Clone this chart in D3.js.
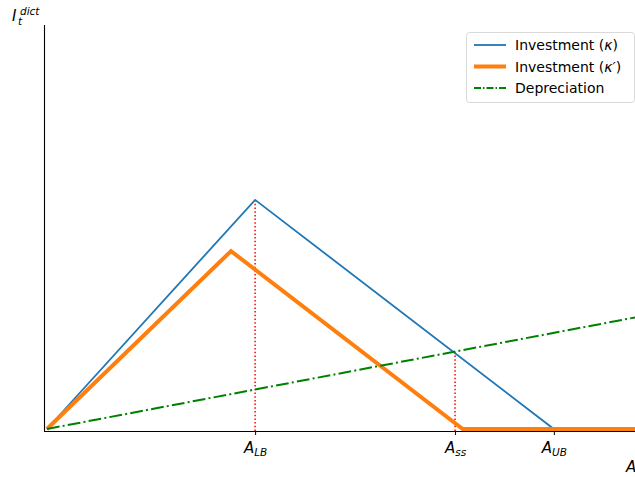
<!DOCTYPE html>
<html>
<head>
<meta charset="utf-8">
<script src="https://cdn.jsdelivr.net/npm/d3@7"></script>
<style>
  body { margin: 0; background: #fff; }
  svg { display: block; font-family: "DejaVu Sans", sans-serif; }
</style>
</head>
<body>
<svg id="chart" width="635" height="477"></svg>
<script>
// Capital thresholds on the A axis
const thresholdNames = ["LB", "ss", "UB"];
const thresholdValues = [3.54, 6.94, 8.62];

// Investment schedule (κ): rises to A_LB, falls to zero at A_UB, then flat
const investA = [0, 3.54, 8.62, 10.2];
const investI = [0, 2.28, 0, 0];

// Investment schedule (κ′): peaks earlier and lower, zero from 7.07 on
const investPrimeA = [0, 3.13, 7.07, 10.2];
const investPrimeI = [0, 1.77, 0, 0];

// Depreciation: linear in A
const deprA = [0, 10.2];
const deprI = [0, 1.132];

// Guide lines: from the axis up to the blue line at A_LB and to the crossing at A_ss
const guideA = [3.54, 6.94];
const guideTop = [2.28, 0.77];

const legendLabels = ["Investment (", "Investment (", "Depreciation"];

const svg = d3.select("#chart");
const mLeft = 44, mBottom = 431, mTop = 25, mRight = 636;

const x = d3.scaleLinear().domain([-0.05, 10]).range([mLeft, 635]);
const y = d3.scaleLinear().domain([-0.02, 4.02]).range([mBottom, mTop]);

const g = svg.append("g");
svg.append("defs").append("clipPath").attr("id", "plot")
  .append("rect").attr("x", mLeft).attr("y", mTop).attr("width", mRight - mLeft).attr("height", mBottom - mTop);

const plot = g.append("g").attr("clip-path", "url(#plot)");
const line = d3.line().x(d => x(d[0])).y(d => y(d[1]));

// red dotted guides
guideA.forEach((a, i) => {
  plot.append("line")
    .attr("x1", x(a)).attr("x2", x(a))
    .attr("y1", y(-0.02)).attr("y2", y(guideTop[i]))
    .attr("stroke", "red").attr("stroke-width", 1.5)
    .attr("stroke-dasharray", "1.5,2.2");
});

plot.append("path")
  .datum(d3.zip(investA, investI))
  .attr("d", line).attr("fill", "none")
  .attr("stroke", "#1f77b4").attr("stroke-width", 1.8);

plot.append("path")
  .datum(d3.zip(investPrimeA, investPrimeI))
  .attr("d", line).attr("fill", "none")
  .attr("stroke", "#ff7f0e").attr("stroke-width", 4)
  .attr("stroke-linejoin", "miter");

plot.append("path")
  .datum(d3.zip(deprA, deprI))
  .attr("d", line).attr("fill", "none")
  .attr("stroke", "green").attr("stroke-width", 2)
  .attr("stroke-dasharray", "12.8,3.2,2,3.2");

// axes: left and bottom spines only
const xAxis = d3.axisBottom(x)
  .tickValues(thresholdValues)
  .tickFormat("")
  .tickSize(4)
  .tickSizeOuter(0);
const xg = g.append("g").attr("transform", `translate(0,${mBottom})`).call(xAxis);
xg.select(".domain").attr("stroke", "#000").attr("stroke-width", 1.1)
  .attr("d", `M${mLeft},0.5H${mRight}`);
xg.selectAll(".tick line").attr("stroke", "#000").attr("stroke-width", 1);

// tick labels with subscripts
xg.selectAll(".tick").each(function(d, i) {
  const t = d3.select(this).append("text")
    .attr("y", 22).attr("text-anchor", "middle")
    .attr("fill", "#000").attr("font-size", 15)
    .attr("font-family", "DejaVu Sans").attr("font-style", "italic");
  t.append("tspan").text("A");
  t.append("tspan").attr("font-size", 10.5).attr("dy", 3).text(thresholdNames[i]);
});

g.append("line")
  .attr("x1", mLeft + 0.5).attr("x2", mLeft + 0.5)
  .attr("y1", mTop).attr("y2", mBottom + 0.5)
  .attr("stroke", "#000").attr("stroke-width", 1.1);

// axis labels: I with subscript t and superscript dict
const ylab = g.append("g").attr("font-style", "italic").attr("fill", "#000");
ylab.append("text").attr("x", 12).attr("y", 21).attr("font-size", 15).text("I");
ylab.append("text").attr("x", 20).attr("y", 15).attr("font-size", 10.5).text("dict");
ylab.append("text").attr("x", 18).attr("y", 25).attr("font-size", 10.5).text("t");

g.append("text").attr("x", 626).attr("y", 472)
  .attr("font-size", 15).attr("font-style", "italic").attr("fill", "#000").text("A");

// legend
const lg = g.append("g").attr("transform", "translate(466,32)");
lg.append("rect").attr("x", 0.5).attr("y", 0.5).attr("width", 168).attr("height", 70)
  .attr("rx", 3).attr("fill", "#fff").attr("fill-opacity", 0.8)
  .attr("stroke", "#d9d9d9").attr("stroke-width", 1);
const legendStyles = [
  { color: "#1f77b4", width: 1.8, dash: null, mark: "κ" },
  { color: "#ff7f0e", width: 4, dash: null, mark: "κ′" },
  { color: "green", width: 2, dash: "7,2,1.5,2", mark: null }
];
legendLabels.forEach((lab, i) => {
  const yy = 13 + i * 21.5;
  const s = legendStyles[i];
  lg.append("line").attr("x1", 8).attr("x2", 40).attr("y1", yy).attr("y2", yy)
    .attr("stroke", s.color).attr("stroke-width", s.width)
    .attr("stroke-dasharray", s.dash);
  const t = lg.append("text").attr("x", 49).attr("y", yy + 5)
    .attr("font-size", 14).attr("fill", "#000");
  t.append("tspan").text(lab);
  if (s.mark) {
    t.append("tspan").attr("font-style", "italic").text(s.mark);
    t.append("tspan").text(")");
  }
});
</script>
</body>
</html>
